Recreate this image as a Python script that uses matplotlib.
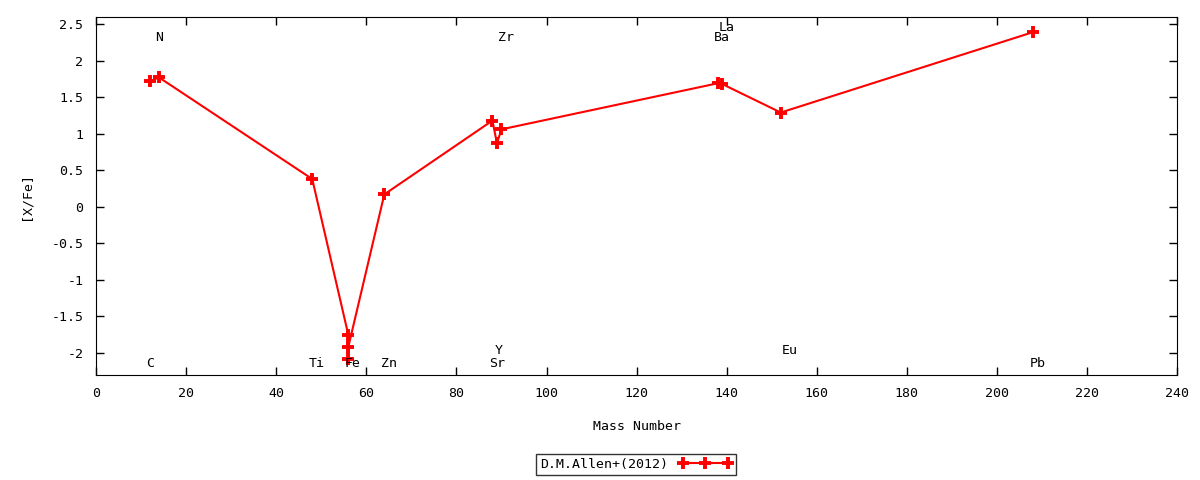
import matplotlib
matplotlib.use('Agg')
import matplotlib.pyplot as plt

# [X/Fe] abundances, D.M.Allen+(2012)
mass = [12, 14, 48, 56, 56, 56, 64, 88, 89, 90, 138, 139, 152, 208]
xfe = [1.72, 1.77, 0.38, -1.75, -2.08, -1.92, 0.17, 1.18, 0.87, 1.06, 1.69, 1.68, 1.29, 2.39]

# element labels (position)
el_names = ['C', 'N', 'Ti', 'Fe', 'Zn', 'Sr', 'Y', 'Zr', 'Ba', 'La', 'Eu', 'Pb']
el_x = [12, 14, 49, 57, 65, 89, 89.5, 91, 139, 140, 154, 209]
el_y = [-2.15, 2.32, -2.15, -2.15, -2.15, -2.15, -1.96, 2.32, 2.32, 2.46, -1.96, -2.15]

plt.rcParams['font.family'] = 'DejaVu Sans Mono'
plt.rcParams['font.size'] = 9.5

fig = plt.figure(figsize=(12, 4.8), dpi=100)
ax = fig.add_axes([0.08, 0.219, 0.901, 0.746])

ax.plot(mass, xfe, color='red', lw=1.5, marker='+', ms=9, mew=2.8,
        label='D.M.Allen+(2012)')

for name, x, y in zip(el_names, el_x, el_y):
    ax.text(x, y, name, ha='center', va='center', fontsize=9.5)

ax.set_xlim(0, 240)
ax.set_ylim(-2.3, 2.6)
ax.set_xticks(range(0, 241, 20))
ax.set_yticks([2.5, 2, 1.5, 1, 0.5, 0, -0.5, -1, -1.5, -2])
ax.set_yticklabels(['2.5', '2', '1.5', '1', '0.5', '0', '-0.5', '-1', '-1.5', '-2'])
ax.tick_params(direction='in', top=True, right=True, length=6, width=1, pad=9)
ax.set_xlabel('Mass Number', labelpad=14)
ax.set_ylabel('[X/Fe]', labelpad=14)

fig.legend(loc='center', bbox_to_anchor=(0.53, 0.033), numpoints=3,
           frameon=True, fancybox=False, edgecolor='black', handlelength=4,
           borderpad=0.3, markerfirst=False)

fig.savefig('out.png', dpi=100)
